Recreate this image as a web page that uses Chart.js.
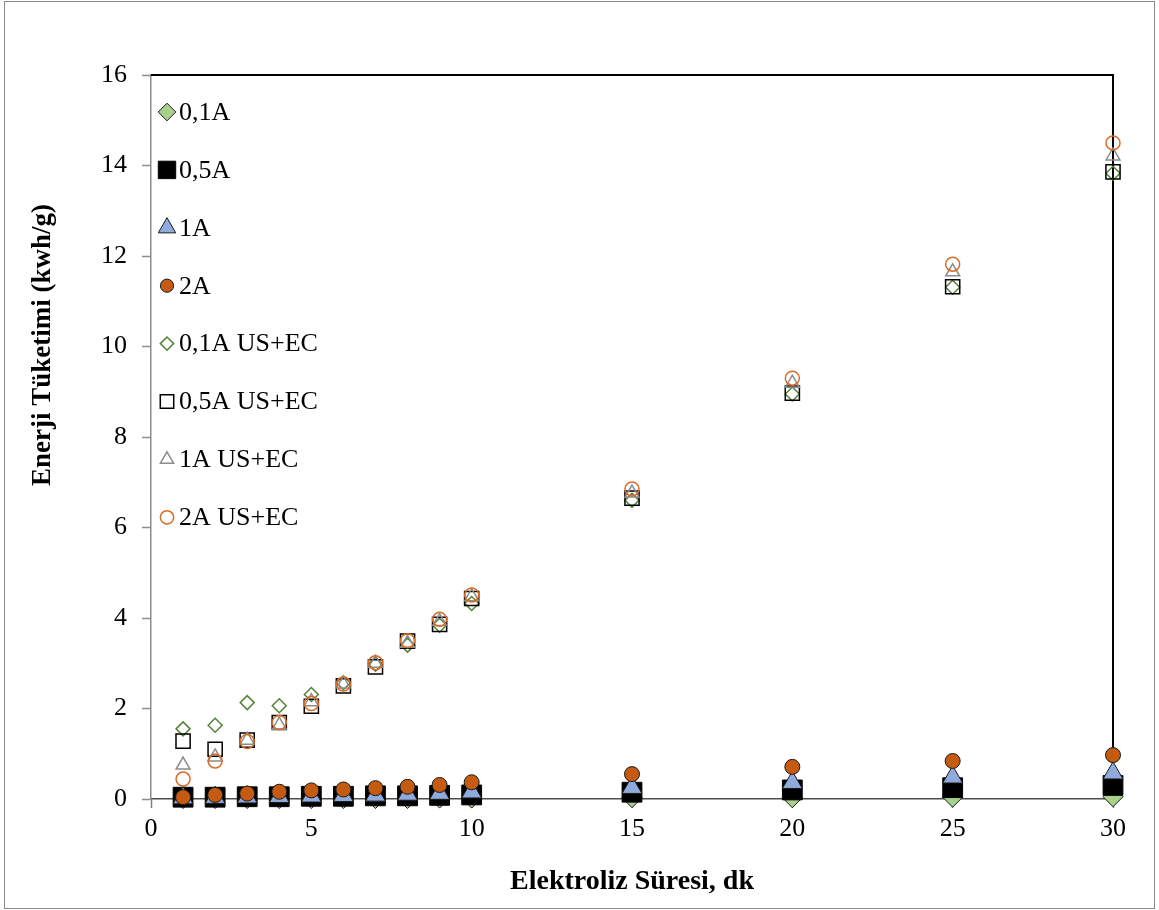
<!DOCTYPE html>
<html lang="tr">
<head>
    <meta charset="UTF-8">
    <title>Enerji Tüketimi</title>
    <style>
        body { margin: 0; background: #fff; }
        .chart-container { width: 1159px; height: 910px; }
    </style>
    <script src="https://cdn.jsdelivr.net/npm/chart.js"></script>
</head>
<body>
    <div class="chart-container">
        <canvas id="enerjiChart"></canvas>
    </div>

    <script>
        // Elektroliz süresi (dk)
        const sure = [1, 2, 3, 4, 5, 6, 7, 8, 9, 10, 15, 20, 25, 30];

        // Enerji tüketimi (kwh/g), sadece EC
        const ec01 = [0.01, 0.01, 0.01, 0.01, 0.01, 0.01, 0.01, 0.01, 0.02, 0.02, 0.03, 0.03, 0.04, 0.05];
        const ec05 = [0.04, 0.04, 0.05, 0.05, 0.06, 0.06, 0.07, 0.07, 0.08, 0.09, 0.15, 0.20, 0.25, 0.30];
        const ec1  = [0.02, 0.03, 0.04, 0.05, 0.06, 0.07, 0.08, 0.10, 0.12, 0.15, 0.25, 0.36, 0.48, 0.57];
        const ec2  = [0.04, 0.09, 0.12, 0.16, 0.19, 0.21, 0.24, 0.27, 0.31, 0.37, 0.55, 0.71, 0.84, 0.97];

        // Enerji tüketimi (kwh/g), US+EC
        const us01 = [1.55, 1.63, 2.13, 2.06, 2.31, 2.57, 2.98, 3.40, 3.84, 4.32, 6.60, 8.95, 11.31, 13.83];
        const us05 = [1.28, 1.10, 1.30, 1.69, 2.05, 2.50, 2.92, 3.49, 3.86, 4.43, 6.65, 8.97, 11.32, 13.86];
        const us1  = [0.75, 0.93, 1.30, 1.63, 2.15, 2.54, 3.00, 3.44, 3.92, 4.47, 6.76, 9.19, 11.65, 14.21];
        const us2  = [0.44, 0.84, 1.27, 1.69, 2.11, 2.54, 3.01, 3.50, 3.97, 4.51, 6.85, 9.30, 11.82, 14.50];

        const xTicks = [0, 5, 10, 15, 20, 25, 30];
        const yTicks = [0, 2, 4, 6, 8, 10, 12, 14, 16];

        const serif = '"Times New Roman", "Liberation Serif", serif';

        const toPoints = values => values.map((v, i) => ({ x: sure[i], y: v }));

        function series(label, values, style, radius, fill, border, width) {
            return {
                label: label,
                data: toPoints(values),
                pointStyle: style,
                pointRadius: radius,
                pointHoverRadius: radius,
                backgroundColor: fill,
                borderColor: border,
                pointBorderWidth: width,
                showLine: false,
                clip: false
            };
        }

        const datasets = [
            series('0,1A', ec01, 'rectRot', 10, '#a9d18e', '#1a1a1a', 1),
            series('0,5A', ec05, 'rect', 14, '#000000', '#000000', 1),
            series('1A', ec1, 'triangle', 11.5, '#8faadc', '#1a1a1a', 1),
            series('2A', ec2, 'circle', 7.5, '#c55a11', '#1a1a1a', 1),
            series('0,1A US+EC', us01, 'rectRot', 7, 'rgba(0,0,0,0)', '#548235', 1.5),
            series('0,5A US+EC', us05, 'rect', 10, 'rgba(0,0,0,0)', '#000000', 1.5),
            series('1A US+EC', us1, 'triangle', 8, 'rgba(0,0,0,0)', '#8c8c8c', 1.5),
            series('2A US+EC', us2, 'circle', 7, 'rgba(0,0,0,0)', '#d96b25', 1.5)
        ];
        // later series sit on top
        datasets.forEach((ds, i) => { ds.order = datasets.length - i; });

        // white page, thin outer border, black top/right edges of the plot
        const framePlugin = {
            id: 'frame',
            beforeDraw(chart) {
                const ctx = chart.ctx;
                ctx.save();
                ctx.fillStyle = '#fff';
                ctx.fillRect(0, 0, chart.width, chart.height);
                ctx.strokeStyle = '#8a8a8a';
                ctx.lineWidth = 1;
                ctx.strokeRect(4.5, 1.5, chart.width - 9, chart.height - 3);
                ctx.restore();
            },
            beforeDatasetsDraw(chart) {
                const { ctx, chartArea: a } = chart;
                ctx.save();
                ctx.strokeStyle = '#000';
                ctx.lineWidth = 2;
                ctx.beginPath();
                ctx.moveTo(a.left, a.top);
                ctx.lineTo(a.right, a.top);
                ctx.lineTo(a.right, a.bottom);
                ctx.stroke();
                ctx.restore();
            }
        };

        // vertical axis title, set a little above the middle
        const yTitlePlugin = {
            id: 'yTitle',
            afterDraw(chart) {
                const ctx = chart.ctx;
                const a = chart.chartArea;
                ctx.save();
                ctx.translate(43, a.top + (a.bottom - a.top) * 0.373);
                ctx.rotate(-Math.PI / 2);
                ctx.font = 'bold 27px ' + serif;
                ctx.fillStyle = '#000';
                ctx.textAlign = 'center';
                ctx.textBaseline = 'middle';
                ctx.fillText('Enerji Tüketimi (kwh/g)', 0, 0);
                ctx.restore();
            }
        };

        // legend stacked inside the plot, top-left
        const legendPlugin = {
            id: 'insideLegend',
            afterDraw(chart) {
                const ctx = chart.ctx;
                const a = chart.chartArea;
                ctx.save();
                ctx.font = '26px ' + serif;
                ctx.textBaseline = 'middle';
                chart.data.datasets.forEach((ds, i) => {
                    const x = a.left + 16;
                    const y = a.top + 37 + i * 57.9;
                    const hollow = ds.backgroundColor === 'rgba(0,0,0,0)';
                    ctx.fillStyle = ds.backgroundColor;
                    ctx.strokeStyle = ds.borderColor;
                    ctx.lineWidth = ds.pointBorderWidth;
                    Chart.helpers.drawPoint(ctx, {
                        pointStyle: ds.pointStyle,
                        radius: ds.pointRadius * (hollow ? 0.95 : 0.88),
                        borderWidth: ds.pointBorderWidth,
                        rotation: 0
                    }, x, y);
                    ctx.fillStyle = '#000';
                    ctx.fillText(ds.label, x + 12, y + 1);
                });
                ctx.restore();
            }
        };

        const tickFont = { family: serif, size: 26 };

        new Chart(document.getElementById('enerjiChart'), {
            type: 'scatter',
            data: { datasets: datasets },
            options: {
                responsive: true,
                maintainAspectRatio: false,
                animation: false,
                layout: { padding: { top: 75, right: 46, left: 0, bottom: 0 } },
                plugins: {
                    legend: { display: false },
                    tooltip: { enabled: false }
                },
                scales: {
                    x: {
                        type: 'linear',
                        min: 0,
                        max: 30,
                        afterBuildTicks: s => { s.ticks = xTicks.map(v => ({ value: v })); },
                        ticks: { color: '#000', font: tickFont, padding: 6, maxRotation: 0 },
                        grid: { drawOnChartArea: false, tickLength: 9, tickColor: '#7f7f7f', tickWidth: 1.5 },
                        border: { color: '#4d4d4d', width: 1.5 },
                        title: {
                            display: true,
                            text: 'Elektroliz Süresi, dk',
                            color: '#000',
                            font: { family: serif, size: 28, weight: 'bold' },
                            padding: { top: 0, bottom: 11 }
                        },
                        afterFit: s => { s.height = 111; }
                    },
                    y: {
                        min: 0,
                        max: 16,
                        afterBuildTicks: s => { s.ticks = yTicks.map(v => ({ value: v })); },
                        ticks: { color: '#000', font: tickFont, padding: 15 },
                        grid: { drawOnChartArea: false, tickLength: 9, tickColor: '#8c8c8c', tickWidth: 1.5 },
                        border: { color: '#8c8c8c', width: 1.5 },
                        afterFit: s => { s.width = 151; }
                    }
                }
            },
            plugins: [framePlugin, yTitlePlugin, legendPlugin]
        });
    </script>
</body>
</html>
